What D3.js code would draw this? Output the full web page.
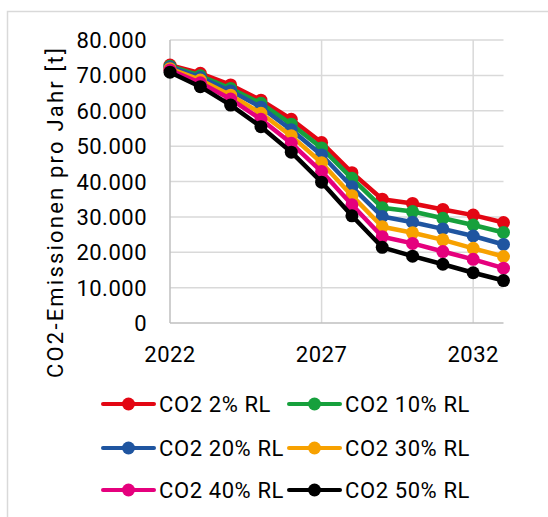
<!DOCTYPE html>
<html>
<head>
<meta charset="utf-8">
<script src="https://cdn.jsdelivr.net/npm/d3@7"></script>
<style>
  html, body { margin: 0; padding: 0; background: #fff; }
  svg { display: block; }
  text { font-family: Roboto, "Noto Sans", sans-serif; fill: #000; }
</style>
</head>
<body>
<svg id="chart" width="548" height="517"></svg>
<script>
// Years on the x axis
const years = [2022, 2023, 2024, 2025, 2026, 2027, 2028, 2029, 2030, 2031, 2032, 2033];

// Annual CO2 emissions [t] per scenario
const co2_2  = [72900, 70600, 67300, 63000, 57600, 51000, 42500, 35000, 33800, 32100, 30500, 28400];
const co2_10 = [72600, 69900, 66300, 62100, 56200, 49500, 40900, 32600, 31500, 29600, 27700, 25600];
const co2_20 = [72300, 69400, 65600, 61000, 54600, 47500, 38500, 30100, 28500, 26600, 24600, 22200];
const co2_30 = [71900, 68700, 64400, 59300, 52900, 45300, 36000, 27200, 25500, 23500, 21100, 18800];
const co2_40 = [71500, 67900, 63300, 57600, 50800, 42800, 33400, 24400, 22500, 20200, 18000, 15500];
const co2_50 = [70900, 66800, 61600, 55500, 48300, 39800, 30300, 21400, 18900, 16600, 14200, 12000];

const seriesNames = ["CO2 2% RL", "CO2 10% RL", "CO2 20% RL", "CO2 30% RL", "CO2 40% RL", "CO2 50% RL"];
const seriesValues = [co2_2, co2_10, co2_20, co2_30, co2_40, co2_50];
const seriesColors = ["#e30613", "#16a03c", "#1f55a0", "#f7a100", "#e5007d", "#000000"];

const yTicks = [0, 10000, 20000, 30000, 40000, 50000, 60000, 70000, 80000];
const xTicks = [2022, 2027, 2032];
const yTitle = "CO2-Emissionen pro Jahr [t]";

const svg = d3.select("#chart");

// outer frame (open to the right and bottom)
svg.append("path")
  .attr("d", "M7.5,517 L7.5,11.5 L548,11.5")
  .attr("fill", "none")
  .attr("stroke", "#d9d9d9")
  .attr("stroke-width", 1.5);

const x = d3.scaleLinear().domain([2022, 2033]).range([170, 503.5]);
const y = d3.scaleLinear().domain([0, 80000]).range([323, 40]);

const fmt = v => d3.format(",")(v).replace(/,/g, ".");

// horizontal gridlines
svg.append("g")
  .selectAll("line")
  .data(yTicks.filter(d => d > 0))
  .join("line")
  .attr("x1", x(2022)).attr("x2", x(2033))
  .attr("y1", d => y(d)).attr("y2", d => y(d))
  .attr("stroke", "#d9d9d9").attr("stroke-width", 1.5);

// vertical gridlines
svg.append("g")
  .selectAll("line")
  .data(xTicks.filter(d => d > 2022))
  .join("line")
  .attr("x1", d => x(d)).attr("x2", d => x(d))
  .attr("y1", y(80000)).attr("y2", y(0))
  .attr("stroke", "#d9d9d9").attr("stroke-width", 1.5);

// axis lines
svg.append("line")
  .attr("x1", x(2022)).attr("x2", x(2033))
  .attr("y1", y(0)).attr("y2", y(0))
  .attr("stroke", "#bfbfbf").attr("stroke-width", 1.5);
svg.append("line")
  .attr("x1", x(2022)).attr("x2", x(2022))
  .attr("y1", y(80000)).attr("y2", y(0))
  .attr("stroke", "#bfbfbf").attr("stroke-width", 1.5);

// y tick labels
svg.append("g")
  .selectAll("text")
  .data(yTicks)
  .join("text")
  .attr("x", 147)
  .attr("y", d => y(d) + 8)
  .attr("text-anchor", "end")
  .attr("font-size", 22)
  .attr("letter-spacing", 0.5)
  .text(d => fmt(d));

// x tick labels
svg.append("g")
  .selectAll("text")
  .data(xTicks)
  .join("text")
  .attr("x", d => x(d))
  .attr("y", 362)
  .attr("text-anchor", "middle")
  .attr("font-size", 22)
  .attr("letter-spacing", 0.5)
  .text(d => d);

// y axis title
svg.append("text")
  .attr("transform", "translate(63,212) rotate(-90)")
  .attr("text-anchor", "middle")
  .attr("font-size", 22)
  .attr("letter-spacing", 2.2)
  .text(yTitle);

// series
const line = d3.line().x((d, i) => x(years[i])).y(d => y(d));
seriesValues.forEach((vals, s) => {
  const g = svg.append("g");
  g.append("path")
    .attr("d", line(vals))
    .attr("fill", "none")
    .attr("stroke", seriesColors[s])
    .attr("stroke-width", 4.5)
    .attr("stroke-linejoin", "round");
  g.selectAll("circle")
    .data(vals)
    .join("circle")
    .attr("cx", (d, i) => x(years[i]))
    .attr("cy", d => y(d))
    .attr("r", 6.5)
    .attr("fill", seriesColors[s]);
});

// legend
const legX = [103, 289];
const legY = [404, 448, 490];
const leg = svg.append("g");
seriesNames.forEach((name, i) => {
  const lx = legX[i % 2], ly = legY[Math.floor(i / 2)];
  leg.append("line")
    .attr("x1", lx).attr("x2", lx + 51)
    .attr("y1", ly).attr("y2", ly)
    .attr("stroke", seriesColors[i]).attr("stroke-width", 4)
    .attr("stroke-linecap", "round");
  leg.append("circle")
    .attr("cx", lx + 25.5).attr("cy", ly).attr("r", 6.5)
    .attr("fill", seriesColors[i]);
  leg.append("text")
    .attr("x", lx + 56)
    .attr("y", ly + 8)
    .attr("font-size", 22)
    .attr("letter-spacing", 0.6)
    .text(name);
});
</script>
</body>
</html>
